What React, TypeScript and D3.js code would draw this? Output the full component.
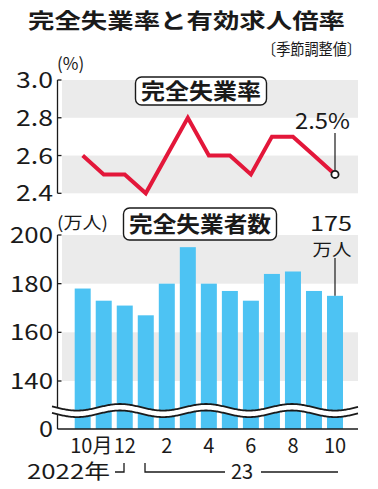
import React from "react";
import * as d3 from "d3";

const months = ["2022-10","2022-11","2022-12","2023-01","2023-02","2023-03","2023-04","2023-05","2023-06","2023-07","2023-08","2023-09","2023-10"];
const rateValues = [2.6, 2.5, 2.5, 2.4, 2.6, 2.8, 2.6, 2.6, 2.5, 2.7, 2.7, 2.6, 2.5];
const unemployedValues = [178, 173, 171, 167, 180, 195, 180, 177, 173, 184, 185, 177, 175];
const xTickLabels = ["10", "", "12", "", "2", "", "4", "", "6", "", "8", "", "10"];
const rateTicks = [2.4, 2.6, 2.8, 3.0];
const countTicks = [140, 160, 180, 200];

const FONT = "'Noto Sans CJK JP', 'Noto Sans', sans-serif";
const INK = "#1a1a1a";
const GRAY = "#ebebeb";
const RED = "#e3173a";
const BLUE = "#4dc3f3";

export default function App() {
  const W = 378, H = 489;
  const axisX = 57.5, plotL = 62, plotR = 358;
  const x = d3.scalePoint<string>().domain(months).range([82.7, 335]);

  // top chart
  const yR = d3.scaleLinear().domain([2.4, 3.0]).range([193.3, 80]);
  const line = d3.line<number>().x((_, i) => x(months[i])!).y((d) => yR(d));

  // bottom chart
  const yC = d3.scaleLinear().domain([140, 200]).range([381, 235]);
  const base = 429;
  const barW = 16;

  // wave break
  const P = 86, amp = 3.3, mid = 407.3, gap = 6.5;
  const x0 = 77 - P / 4;
  const wx = d3.range(52, 359, 1);
  const wy = (xx: number) => mid + amp * Math.sin((2 * Math.PI * (xx - x0)) / P);
  const upper = d3.line<number>().x((d) => d).y((d) => wy(d))(wx)!;
  const lower = d3.line<number>().x((d) => d).y((d) => wy(d) + gap)(wx)!;
  const area = d3.area<number>().x((d) => d).y0((d) => wy(d)).y1((d) => wy(d) + gap)(wx)!;

  const last = months.length - 1;
  const lx = x(months[last])!;

  return (
    <svg width={W} height={H} style={{ display: "block", position: "absolute", left: 0, top: 0 }} fontFamily={FONT}>
      <rect width={W} height={H} fill="#fff" />
      {/* Title */}
      <text x={28} y={28} fontSize={21} fontWeight={700} fill={INK} textLength={317} lengthAdjust="spacingAndGlyphs">完全失業率と有効求人倍率</text>
      <text x={262} y={55} fontSize={16} fill={INK} textLength={99} lengthAdjust="spacingAndGlyphs">〔季節調整値〕</text>

      {/* Top chart */}
      <rect x={plotL} y={yR(3.0)} width={plotR - plotL} height={yR(2.8) - yR(3.0)} fill={GRAY} />
      <rect x={plotL} y={yR(2.6)} width={plotR - plotL} height={yR(2.4) - yR(2.6)} fill={GRAY} />
      <line x1={axisX} x2={axisX} y1={yR(3.0)} y2={yR(2.4)} stroke={INK} strokeWidth={1.3} />
      {rateTicks.map((t) => (
        <g key={t}>
          <line x1={axisX} x2={axisX + 4} y1={yR(t)} y2={yR(t)} stroke={INK} strokeWidth={1.3} />
          <text x={53} y={yR(t) + 8} fontSize={22} textAnchor="end" fill={INK} textLength={37} lengthAdjust="spacingAndGlyphs">{t.toFixed(1)}</text>
        </g>
      ))}
      <text x={57} y={70} fontSize={17} fill={INK}>(%)</text>
      <rect x={135.5} y={77} width={131} height={28} rx={6} fill="#fff" stroke={INK} strokeWidth={1.4} />
      <text x={201} y={99} fontSize={22} fontWeight={700} textAnchor="middle" fill={INK} textLength={120} lengthAdjust="spacingAndGlyphs">完全失業率</text>
      <path d={line(rateValues)!} fill="none" stroke={RED} strokeWidth={4} strokeLinejoin="miter" />
      <line x1={lx} x2={lx} y1={133} y2={yR(rateValues[last]) - 4} stroke={INK} strokeWidth={1.2} />
      <circle cx={lx} cy={yR(rateValues[last])} r={3.6} fill="#fff" stroke={INK} strokeWidth={1.8} />
      <text x={322.5} y={129} fontSize={22} textAnchor="middle" fill={INK} textLength={55} lengthAdjust="spacingAndGlyphs">2.5%</text>

      {/* Bottom chart */}
      <rect x={plotL} y={yC(200)} width={plotR - plotL} height={yC(180) - yC(200)} fill={GRAY} />
      <rect x={plotL} y={yC(160)} width={plotR - plotL} height={yC(140) - yC(160)} fill={GRAY} />
      {unemployedValues.map((v, i) => (
        <rect key={i} x={x(months[i])! - barW / 2} y={yC(v)} width={barW} height={base - yC(v)} fill={BLUE} />
      ))}
      <line x1={axisX} x2={axisX} y1={yC(200)} y2={base} stroke={INK} strokeWidth={1.3} />
      <line x1={axisX} x2={plotR} y1={base} y2={base} stroke={INK} strokeWidth={1.3} />
      {countTicks.map((t) => (
        <g key={t}>
          <line x1={axisX} x2={axisX + 4} y1={yC(t)} y2={yC(t)} stroke={INK} strokeWidth={1.3} />
          <text x={53} y={yC(t) + 8} fontSize={22} textAnchor="end" fill={INK} textLength={43} lengthAdjust="spacingAndGlyphs">{t}</text>
        </g>
      ))}
      <text x={53} y={base + 8} fontSize={22} textAnchor="end" fill={INK} textLength={14} lengthAdjust="spacingAndGlyphs">0</text>
      <path d={area} fill="#fff" />
      <path d={upper} fill="none" stroke={INK} strokeWidth={1.8} />
      <path d={lower} fill="none" stroke={INK} strokeWidth={1.8} />
      <text x={57} y={229} fontSize={17} fill={INK} textLength={51} lengthAdjust="spacingAndGlyphs">(万人)</text>
      <rect x={123.5} y={208} width={153} height={32} rx={6} fill="#fff" stroke={INK} strokeWidth={1.4} />
      <text x={200} y={232} fontSize={22} fontWeight={700} textAnchor="middle" fill={INK} textLength={142} lengthAdjust="spacingAndGlyphs">完全失業者数</text>
      <text x={331} y={231} fontSize={20} textAnchor="middle" fill={INK} textLength={42} lengthAdjust="spacingAndGlyphs">175</text>
      <text x={332} y={256} fontSize={17} textAnchor="middle" fill={INK} textLength={39} lengthAdjust="spacingAndGlyphs">万人</text>
      <line x1={lx} x2={lx} y1={258} y2={yC(unemployedValues[last])} stroke={INK} strokeWidth={1.2} />

      {/* X labels */}
      {xTickLabels.map((l, i) =>
        l ? (
          i === 0 ? (
            <text key={i} x={x(months[i])! - 12.5} y={453} fontSize={20} fill={INK}>{l}<tspan>月</tspan></text>
          ) : (
            <text key={i} x={x(months[i])!} y={453} fontSize={20} textAnchor="middle" fill={INK}>{l}</text>
          )
        ) : null
      )}
      <text x={27} y={479} fontSize={20} fill={INK} textLength={83} lengthAdjust="spacingAndGlyphs">2022年</text>
      <path d="M115,472 H124 V463" fill="none" stroke={INK} strokeWidth={1.3} />
      <path d="M145,463 V472 H225" fill="none" stroke={INK} strokeWidth={1.3} />
      <text x={242} y={479} fontSize={20} textAnchor="middle" fill={INK}>23</text>
      <line x1={261} x2={338} y1={472} y2={472} stroke={INK} strokeWidth={1.3} />
    </svg>
  );
}
